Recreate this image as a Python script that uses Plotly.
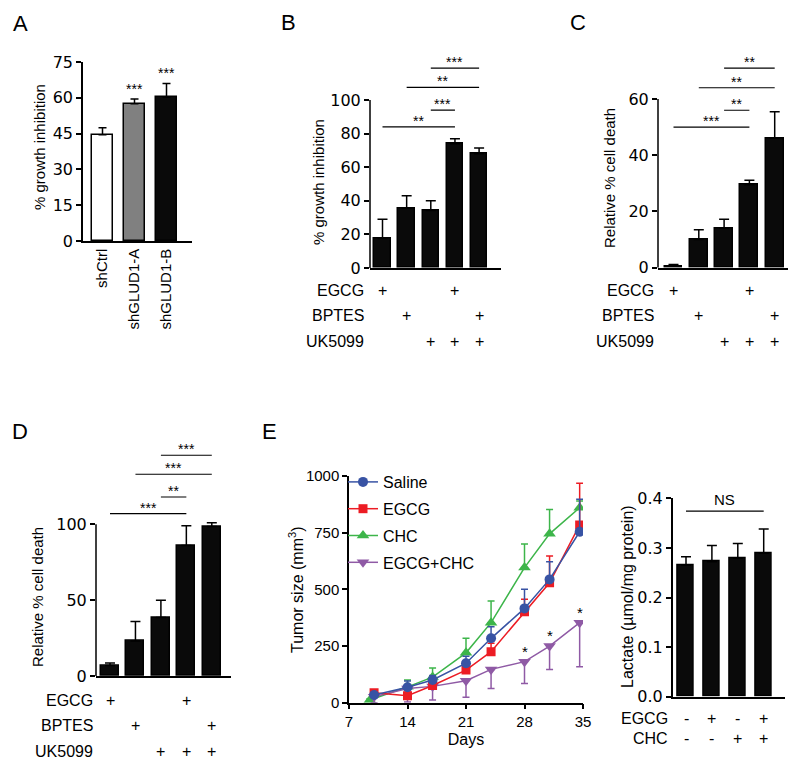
import plotly.graph_objects as go

# ---------------------------------------------------------------------------------------
# data

# A - growth inhibition after GLUD1 knockdown
a_groups = ["shCtrl", "shGLUD1-A", "shGLUD1-B"]
a_mean = [44.5, 57.5, 60.2]
a_err = [3.0, 2.0, 5.8]
a_stars = ["", "***", "***"]
a_colors = ["#ffffff", "#808080", "#0a0a0a"]

# B/C/D - treatment combinations (same for all three)
row_names = ["EGCG", "BPTES", "UK5099"]
egcg = ["+", "", "", "+", ""]
bptes = ["", "+", "", "", "+"]
uk5099 = ["", "", "+", "+", "+"]

b_mean = [17.5, 35.5, 34.2, 74.0, 68.0]
b_err = [11.5, 7.5, 5.8, 3.0, 3.5]
b_sig_from = [1, 3, 2, 3]
b_sig_to = [4, 4, 5, 5]
b_sig_y = [84, 94, 107.5, 119]
b_sig_txt = ["**", "***", "**", "***"]

c_mean = [0.5, 10.0, 14.0, 29.5, 46.0]
c_err = [0.6, 3.5, 3.2, 1.6, 9.5]
c_sig_from = [1, 3, 2, 3]
c_sig_to = [4, 4, 5, 5]
c_sig_y = [50, 56, 64, 71]
c_sig_txt = ["***", "**", "**", "**"]

d_mean = [7.0, 23.0, 38.5, 86.0, 98.5]
d_err = [1.5, 13.0, 11.5, 13.0, 2.5]
d_sig_from = [1, 3, 2, 3]
d_sig_to = [4, 4, 5, 5]
d_sig_y = [107, 118, 133, 145.5]
d_sig_txt = ["***", "**", "***", "***"]

# E - tumour growth
e_days = [10, 14, 17, 21, 24, 28, 31, 34.6]
e_days_chc = [9.5, 14, 17, 21, 24, 28, 31, 34.6]
saline = [34, 68, 100, 174, 284, 416, 544, 754]
saline_err = [11, 28, 20, 31, 51, 84, 78, 143]
egcg_t = [44, 31, 76, 144, 225, 401, 529, 784]
egcg_t_err = [10, 15, 20, 25, 37, 55, 118, 184]
chc = [12, 70, 113, 220, 353, 596, 745, 860]
chc_err = [5, 30, 40, 64, 96, 104, 107, 30]
combo = [26, 63, 72, 97, 147, 181, 250, 353]
combo_err = [26, 60, 60, 73, 84, 96, 103, 194]
e_star_days = [28, 31, 34.6]
e_star_vals = [181, 250, 353]

# E (right) - lactate
f_mean = [0.265, 0.272, 0.279, 0.289]
f_err = [0.017, 0.033, 0.030, 0.049]
f_egcg = ["-", "+", "-", "+"]
f_chc = ["-", "-", "+", "+"]
f_ns_y = 0.374

# ---------------------------------------------------------------------------------------

W, H = 800, 769
OFF = 8  # page body margin
FONT = "Liberation Sans, Arial, sans-serif"
NUMFONT = "DejaVu Sans, sans-serif"
BLACK = "#0a0a0a"


def fx(p):
    return (p - OFF) / W


def fy(p):
    return 1 - (p - OFF) / H


fig = go.Figure()
annotations = []
shapes = []
axes = {}


def ann(**kw):
    d = dict(showarrow=False, xanchor="center", yanchor="middle")
    d.update(kw)
    annotations.append(d)


def axis_style(**kw):
    d = dict(showline=True, linecolor="black", linewidth=1.5, ticks="outside",
             ticklen=5, tickwidth=1.5, tickcolor="black", showgrid=False,
             zeroline=False, tickfont=dict(size=16, color="black", family=NUMFONT))
    d.update(kw)
    return d


def bar_axes(n, left, right, c1, sp, zero_px, unit_px, ymax, tickmax, dtick):
    # x positions are 1..k, placed so that bar 1 sits at c1 px with spacing sp
    xr = [1 - (c1 - left) / sp, 1 + (right - c1) / sp]
    top_px = zero_px - ymax * unit_px
    sx = "" if n == 1 else str(n)
    axes["xaxis" + sx] = axis_style(domain=[fx(left), fx(right)], range=xr,
                                    anchor="y" + sx, ticks="", showticklabels=False)
    axes["yaxis" + sx] = axis_style(domain=[fy(zero_px), fy(top_px)], range=[0, ymax],
                                    anchor="x" + sx, tickmode="linear", tick0=0,
                                    dtick=dtick, showline=tickmax == ymax)
    if tickmax != ymax:
        # axis line only up to the last tick, brackets sit above it
        shapes.append(dict(type="line", xref="x" + sx + " domain", x0=0, x1=0,
                           yref="y" + sx, y0=0, y1=tickmax,
                           line=dict(color="black", width=1.5)))
        axes["yaxis" + sx]["tickvals"] = list(range(0, tickmax + 1, dtick))
        axes["yaxis" + sx]["tickmode"] = "array"


def add_bars(n, means, errs, width, colors, cap=5):
    sx = "" if n == 1 else str(n)
    xs = list(range(1, len(means) + 1))
    fig.add_trace(go.Bar(
        x=xs, y=means, width=width, xaxis="x" + sx, yaxis="y" + sx,
        marker=dict(color=colors, line=dict(color="black", width=1.5)),
        error_y=dict(type="data", symmetric=False, array=errs,
                     arrayminus=[0] * len(errs), color="black", thickness=1.5, width=cap),
        showlegend=False))


def add_sig(n, x0s, x1s, ys, txts):
    sx = "" if n == 1 else str(n)
    for a, b, y, t in zip(x0s, x1s, ys, txts):
        fig.add_trace(go.Scatter(x=[a, b], y=[y, y], mode="lines", xaxis="x" + sx,
                                 yaxis="y" + sx, line=dict(color="black", width=1.2),
                                 showlegend=False, hoverinfo="skip"))
        ann(xref="x" + sx, yref="y" + sx, x=(a + b) / 2, y=y, text=t,
            yanchor="bottom", yshift=-4, font=dict(size=14, color="black"))


def add_rows(n, rows, names, row_px, label_right):
    sx = "" if n == 1 else str(n)
    for row, name, ypx in zip(rows, names, row_px):
        ann(xref="paper", yref="paper", x=fx(label_right), y=fy(ypx), text=name,
            xanchor="right", font=dict(size=16, color="black"))
        for i, s in enumerate(row):
            if s:
                ann(xref="x" + sx, yref="paper", x=i + 1, y=fy(ypx), text=s,
                    font=dict(size=16, color="black"))


def ytitle(text, xpx, ypx, size=16):
    ann(xref="paper", yref="paper", x=fx(xpx), y=fy(ypx), text=text, textangle=-90,
        font=dict(size=size, color="black"))


# ---------------- A
bar_axes(1, 83, 192, 102.5, 32, 241, 179 / 75, 75, 75, 15)
axes["xaxis"].update(showticklabels=True, tickmode="array", tickvals=[1, 2, 3],
                     ticktext=a_groups, tickangle=-90,
                     tickfont=dict(size=15, color="black", family=FONT))
add_bars(1, a_mean, a_err, 0.67, a_colors, cap=4)
for i, s in enumerate(a_stars):
    if s:
        ann(xref="x", yref="y", x=i + 1, y=a_mean[i] + a_err[i], text=s,
            yanchor="bottom", yshift=0, font=dict(size=14, color="black"))
ytitle("% growth inhibition", 39, 147, 15)

# ---------------- B
bar_axes(2, 370, 501, 382.5, 24.15, 268, 1.68, 130, 100, 20)
add_bars(2, b_mean, b_err, 0.68, BLACK)
add_sig(2, b_sig_from, b_sig_to, b_sig_y, b_sig_txt)
add_rows(2, [egcg, bptes, uk5099], row_names, [290, 315, 342], 366)
ytitle("% growth inhibition", 319, 182, 15)

# ---------------- C
bar_axes(3, 658, 788, 673.5, 25.3, 267.7, 168.7 / 60, 78, 60, 20)
add_bars(3, c_mean, c_err, 0.71, BLACK)
add_sig(3, c_sig_from, c_sig_to, c_sig_y, c_sig_txt)
add_rows(3, [egcg, bptes, uk5099], row_names, [290, 315, 342], 656)
ytitle("Relative % cell death", 609, 178, 15)

# ---------------- D
bar_axes(4, 96, 231, 110, 25.45, 676, 1.517, 155, 100, 50)
add_bars(4, d_mean, d_err, 0.71, BLACK)
add_sig(4, d_sig_from, d_sig_to, d_sig_y, d_sig_txt)
add_rows(4, [egcg, bptes, uk5099], row_names, [700, 725, 751], 95)
ytitle("Relative % cell death", 37, 597, 15)

# ---------------- E (tumour growth)
axes["xaxis5"] = axis_style(domain=[fx(349), fx(583)], range=[7, 35], anchor="y5",
                            tickvals=[7, 14, 21, 28, 35],
                            tickfont=dict(size=15, color="black", family=FONT),
                            title=dict(text="Days", font=dict(size=16, color="black"), standoff=4))
axes["yaxis5"] = axis_style(domain=[fy(702.7), fy(476)], range=[0, 1000], anchor="x5",
                            tickvals=[0, 250, 500, 750, 1000],
                            tickfont=dict(size=15, color="black", family=FONT))
series = [
    ("CHC", e_days_chc, chc, chc_err, "#3db54a", "triangle-up", 11, 3, False),
    ("EGCG+CHC", e_days, combo, combo_err, "#8f5aa5", "triangle-down", 11, 4, True),
    ("EGCG", e_days, egcg_t, egcg_t_err, "#ec1c24", "square", 9, 2, False),
    ("Saline", e_days, saline, saline_err, "#3853a4", "circle", 10, 1, False),
]
for name, xs, ys, errs, col, sym, size, rank, down in series:
    if down:
        err = dict(type="data", symmetric=False, array=[0] * len(errs), arrayminus=errs)
    else:
        err = dict(type="data", symmetric=False, array=errs, arrayminus=[0] * len(errs))
    err.update(color=col, thickness=1.5, width=3.5)
    fig.add_trace(go.Scatter(x=xs, y=ys, name=name, mode="lines+markers", xaxis="x5", yaxis="y5",
                             line=dict(color=col, width=1.5),
                             marker=dict(symbol=sym, size=size, color=col),
                             error_y=err, legendrank=rank, legendgroup=name))
for d, v in zip(e_star_days, e_star_vals):
    ann(xref="x5", yref="y5", x=d, y=v, text="*", yanchor="bottom", yshift=0,
        font=dict(size=15, color="black"))
ytitle("Tumor size (mm<sup>3</sup>)", 296, 590)

# ---------------- E (lactate)
bar_axes(6, 672.7, 785, 686, 25.9, 696.7, 198.4 / 0.4, 0.4, 0.4, 0.1)
axes["yaxis6"].update(tickformat=".1f")
add_bars(6, f_mean, f_err, 0.61, BLACK)
fig.add_trace(go.Scatter(x=[1, len(f_mean)], y=[f_ns_y, f_ns_y], mode="lines", xaxis="x6",
                         yaxis="y6", line=dict(color="black", width=1.2),
                         showlegend=False, hoverinfo="skip"))
ann(xref="x6", yref="y6", x=(1 + len(f_mean)) / 2, y=f_ns_y, text="NS",
    yanchor="bottom", yshift=1, font=dict(size=15, color="black"))
add_rows(6, [f_egcg, f_chc], ["EGCG", "CHC"], [718, 738], 670)
ytitle("Lactate (\u00b5mol/mg protein)", 627, 597)

# panel letters
for letter, xp, yp in [("A", 20, 23), ("B", 288, 22), ("C", 578, 22), ("D", 20, 432), ("E", 269, 432)]:
    ann(xref="paper", yref="paper", x=fx(xp), y=fy(yp), text=letter,
        font=dict(size=22, color="black"))

fig.update_layout(
    width=W, height=H, margin=dict(l=0, r=0, t=0, b=0, autoexpand=False),
    paper_bgcolor="white", plot_bgcolor="white",
    font=dict(family=FONT, color="black"),
    bargap=0, annotations=annotations, shapes=shapes,
    legend=dict(x=fx(343), y=fy(465), xanchor="left", yanchor="top",
                font=dict(size=16, color="black"), bgcolor="rgba(0,0,0,0)",
                tracegroupgap=3, itemwidth=30),
    **axes,
)

fig.write_html("out.html")
